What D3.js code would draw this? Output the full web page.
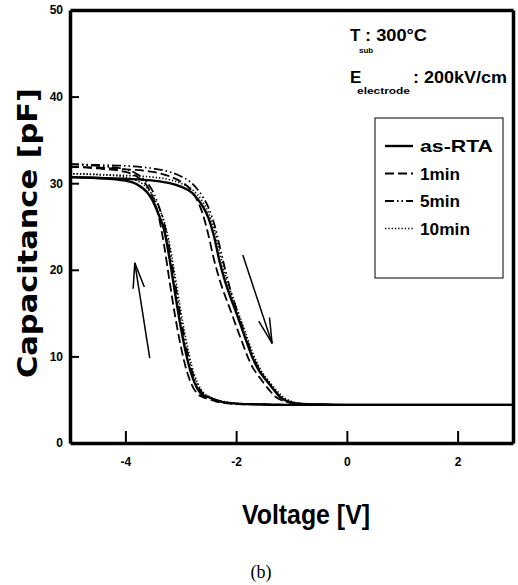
<!DOCTYPE html>
<html>
<head>
<meta charset="utf-8">
<script src="https://cdn.jsdelivr.net/npm/d3@7"></script>
<style>
  body { margin: 0; background: #fff; }
  svg { display: block; }
  .narrow { font-family: 'Liberation Sans', Arial, sans-serif; font-weight: bold; }
</style>
</head>
<body>
<svg id="chart" width="518" height="585"></svg>
<script>

// Voltage grids for the two sweep branches
const voltsLeft = [-5, -4.5, -4, -3.8, -3.6, -3.5, -3.4, -3.3, -3.2, -3.1, -3.0, -2.9, -2.8, -2.7, -2.6, -2.5, -2.3, -2.0, -1.5, -1.0, 0, 1, 2, 3];
const voltsRight = [-5, -4.5, -4, -3.5, -3.2, -3.0, -2.8, -2.7, -2.6, -2.5, -2.4, -2.3, -2.2, -2.1, -2.0, -1.9, -1.8, -1.7, -1.6, -1.5, -1.4, -1.3, -1.2, -1.1, -1.0, -0.8, -0.5, 0, 1, 2, 3];

// Capacitance [pF] per series, left (reverse) branch
const rtaLeft   = [30.7, 30.6, 30.3, 29.9, 28.9, 27.9, 26.4, 24.6, 21.2, 17.2, 13.4, 10.2, 7.8, 6.3, 5.5, 5.3, 4.8, 4.55, 4.45, 4.4, 4.4, 4.4, 4.4, 4.4];
const min1Left  = [31.9, 31.7, 31.3, 30.8, 29.6, 28.3, 26.2, 22.8, 18.6, 14.6, 11.2, 8.5, 6.7, 5.7, 5.3, 5.1, 4.7, 4.5, 4.45, 4.4, 4.4, 4.4, 4.4, 4.4];
const min5Left  = [32.2, 32.0, 31.6, 31.1, 30.0, 29.0, 27.4, 25.4, 22.3, 18.4, 14.5, 11.1, 8.4, 6.7, 5.7, 5.35, 4.85, 4.55, 4.45, 4.4, 4.4, 4.4, 4.4, 4.4];
const min10Left = [31.1, 31.0, 30.7, 30.3, 29.4, 28.5, 27.2, 25.6, 22.9, 19.2, 15.3, 11.8, 8.9, 7.0, 5.9, 5.4, 4.9, 4.6, 4.45, 4.4, 4.4, 4.4, 4.4, 4.4];

// Capacitance [pF] per series, right (forward) branch
const rtaRight   = [30.7, 30.6, 30.5, 30.3, 30.0, 29.6, 28.9, 28.2, 27.3, 26.0, 23.9, 21.0, 18.7, 16.8, 15.1, 13.3, 11.5, 9.8, 8.5, 7.6, 6.8, 6.0, 5.3, 4.9, 4.7, 4.5, 4.45, 4.4, 4.4, 4.4, 4.4];
const min1Right  = [31.9, 31.8, 31.6, 31.3, 30.8, 30.2, 29.1, 28.0, 26.4, 24.0, 21.2, 18.9, 17.0, 15.3, 13.5, 11.8, 10.1, 8.7, 7.8, 6.9, 6.1, 5.4, 5.0, 4.75, 4.6, 4.5, 4.45, 4.4, 4.4, 4.4, 4.4];
const min5Right  = [32.2, 32.1, 32.0, 31.7, 31.3, 30.8, 30.0, 29.3, 28.4, 27.2, 25.4, 22.8, 20.1, 17.6, 15.6, 13.7, 11.8, 10.1, 8.7, 7.7, 6.8, 6.0, 5.3, 4.9, 4.7, 4.5, 4.45, 4.4, 4.4, 4.4, 4.4];
const min10Right = [31.1, 31.0, 30.9, 30.7, 30.4, 30.0, 29.3, 28.7, 27.8, 26.6, 24.8, 22.1, 19.5, 17.5, 15.8, 14.0, 12.2, 10.4, 9.0, 7.9, 7.1, 6.3, 5.6, 5.1, 4.8, 4.55, 4.45, 4.4, 4.4, 4.4, 4.4];

// Legend labels and axis ticks
const seriesNames = ["as-RTA", "1min", "5min", "10min"];
const xTicks = [-4, -2, 0, 2];
const yTicks = [0, 10, 20, 30, 40, 50];

// Sweep direction arrows [V, pF] tail -> head
const arrows = [
    { from: [-3.56, 9.8], to: [-3.83, 20.8] },
    { from: [-1.88, 21.7], to: [-1.35, 11.5] }
];

const series = [
    { name: seriesNames[0], left: rtaLeft,   right: rtaRight,   dash: null,              width: 2.4 },
    { name: seriesNames[1], left: min1Left,  right: min1Right,  dash: "9,4",             width: 1.8 },
    { name: seriesNames[2], left: min5Left,  right: min5Right,  dash: "9,3,1.5,3,1.5,3", width: 1.8 },
    { name: seriesNames[3], left: min10Left, right: min10Right, dash: "1.3,2",           width: 1.6 }
];

const svg = d3.select("#chart");

// Plot area
const plotL = 70, plotR = 513, plotT = 10, plotB = 443;

const xScale = d3.scaleLinear().domain([-5, 3]).range([plotL, plotR]);
const yScale = d3.scaleLinear().domain([0, 50]).range([plotB, plotT]);

// Four axes make up the frame; ticks point inward, labels only left and bottom
function styleAxis(g) {
    g.select(".domain").attr("stroke", "#000").attr("stroke-width", 3.5);
    g.selectAll(".tick line").attr("stroke", "#000").attr("stroke-width", 2);
    g.selectAll("text").attr("class", "narrow").style("font-size", "12px").attr("fill", "#000");
}

svg.append("g")
    .attr("transform", `translate(${plotL},0)`)
    .call(d3.axisLeft(yScale).tickValues(yTicks.slice(1, -1)).tickSizeInner(-9).tickSizeOuter(0)
        .tickPadding(7).tickFormat(d => String(d)))
    .call(styleAxis);

svg.append("g")
    .attr("transform", `translate(0,${plotB})`)
    .call(d3.axisBottom(xScale).tickValues(xTicks).tickSizeInner(-12).tickSizeOuter(0)
        .tickPadding(14).tickFormat(d => String(d)))
    .call(styleAxis);

svg.append("g")
    .attr("transform", `translate(0,${plotT})`)
    .call(d3.axisTop(xScale).tickValues([]).tickSizeOuter(0))
    .call(styleAxis);

svg.append("g")
    .attr("transform", `translate(${plotR},0)`)
    .call(d3.axisRight(yScale).tickValues([]).tickSizeOuter(0))
    .call(styleAxis);

// Corner labels 0 and 50 sit on the frame corners
svg.append("g").selectAll("text").data([yTicks[0], yTicks[yTicks.length - 1]]).join("text")
    .attr("class", "narrow")
    .attr("x", plotL - 7)
    .attr("y", d => yScale(d))
    .attr("dy", "0.32em")
    .attr("text-anchor", "end")
    .style("font-size", "12px")
    .text(d => String(d));

// Curves
const lineGen = d3.line()
    .x(d => xScale(d[0]))
    .y(d => yScale(d[1]))
    .curve(d3.curveMonotoneX);

const curves = svg.append("g");
series.forEach(s => {
    [[voltsLeft, s.left], [voltsRight, s.right]].forEach(([vs, cs]) => {
        curves.append("path")
            .attr("d", lineGen(vs.map((v, i) => [v, cs[i]])))
            .attr("fill", "none")
            .attr("stroke", "#000")
            .attr("stroke-width", s.width)
            .attr("stroke-dasharray", s.dash);
    });
});

// Arrows with open V heads
arrows.forEach(a => {
    const x1 = xScale(a.from[0]), y1 = yScale(a.from[1]);
    const x2 = xScale(a.to[0]), y2 = yScale(a.to[1]);
    const ang = Math.atan2(y2 - y1, x2 - x1);
    const len = 26, spread = 0.22;
    svg.append("line")
        .attr("x1", x1).attr("y1", y1).attr("x2", x2).attr("y2", y2)
        .attr("stroke", "#000").attr("stroke-width", 1.5);
    [-spread, spread].forEach(s => {
        svg.append("line")
            .attr("x1", x2).attr("y1", y2)
            .attr("x2", x2 - len * Math.cos(ang + s))
            .attr("y2", y2 - len * Math.sin(ang + s))
            .attr("stroke", "#000").attr("stroke-width", 1.5);
    });
});

// Legend
const legend = svg.append("g").attr("transform", "translate(375,118)");
legend.append("rect")
    .attr("width", 128).attr("height", 160)
    .attr("fill", "#fff")
    .attr("stroke", "#000")
    .attr("stroke-width", 1);

const legendWidths = [73, 40, 40, 50];
series.forEach((s, i) => {
    const ly = 28 + i * 27.5;
    legend.append("line")
        .attr("x1", 10).attr("x2", 38)
        .attr("y1", ly).attr("y2", ly)
        .attr("stroke", "#000")
        .attr("stroke-width", s.width)
        .attr("stroke-dasharray", s.dash);
    legend.append("text")
        .attr("class", "narrow")
        .attr("x", 45).attr("y", ly + 6)
        .attr("textLength", legendWidths[i])
        .attr("lengthAdjust", "spacingAndGlyphs")
        .style("font-size", "17px")
        .text(s.name);
});

// Conditions
const cond = svg.append("g").attr("class", "narrow");
cond.append("text").attr("x", 350).attr("y", 41).style("font-size", "17px").text("T");
cond.append("text").attr("x", 359).attr("y", 53).style("font-size", "8px").text("sub");
cond.append("text").attr("x", 365).attr("y", 41).attr("textLength", 62).attr("lengthAdjust", "spacingAndGlyphs")
    .style("font-size", "17px").text(": 300°C");
cond.append("text").attr("x", 350).attr("y", 83).style("font-size", "17px").text("E");
cond.append("text").attr("x", 357).attr("y", 94).attr("textLength", 53).attr("lengthAdjust", "spacingAndGlyphs")
    .style("font-size", "9px").text("electrode");
cond.append("text").attr("x", 413).attr("y", 83).attr("textLength", 94).attr("lengthAdjust", "spacingAndGlyphs")
    .style("font-size", "17px").text(": 200kV/cm");

// Axis titles
svg.append("text")
    .attr("transform", "translate(37,233) rotate(-90)")
    .attr("text-anchor", "middle")
    .attr("textLength", 290)
    .attr("lengthAdjust", "spacingAndGlyphs")
    .style("font-family", "'DejaVu Sans', sans-serif")
    .style("font-weight", "bold")
    .style("font-size", "26px")
    .text("Capacitance  [pF]");

svg.append("text")
    .attr("class", "narrow")
    .attr("x", 306).attr("y", 524)
    .attr("text-anchor", "middle")
    .attr("textLength", 128)
    .attr("lengthAdjust", "spacingAndGlyphs")
    .style("font-size", "28px")
    .text("Voltage [V]");

svg.append("text")
    .attr("x", 261).attr("y", 578)
    .attr("text-anchor", "middle")
    .style("font-family", "'Liberation Serif', serif")
    .style("font-size", "18px")
    .text("(b)");

</script>
</body>
</html>
